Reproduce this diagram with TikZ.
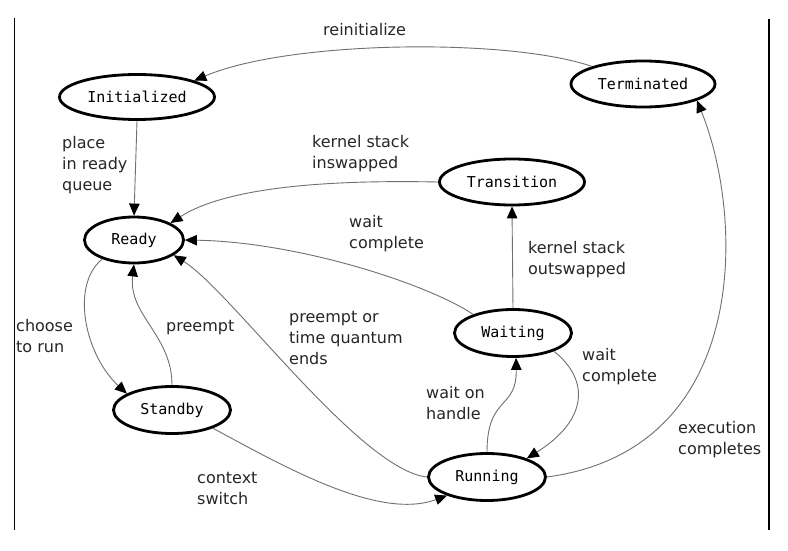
\documentclass[tikz,border=0pt]{standalone}
\usepackage{fontspec}
\setmainfont{DejaVu Sans}
\newfontfamily\statefont{DejaVu Sans Mono}
\usetikzlibrary{shapes.geometric,arrows.meta}
\definecolor{edgegray}{RGB}{112,112,112}
\begin{document}
\begin{tikzpicture}[x=1pt,y=-1pt,
  state/.style={ellipse,draw=black,line width=2.8pt,inner sep=0pt,font=\statefont\fontsize{15}{18}\selectfont},
  conn/.style={draw=edgegray,line width=0.9pt,-{Triangle[length=12pt,width=10.5pt,color=black]}},
  lbl/.style={anchor=west,align=left,inner sep=0pt,font=\fontsize{16}{21}\selectfont,text=black!85}]
\useasboundingbox (0,0) rectangle (788,551);
\fill[white] (0,0) rectangle (788,551);
% frame lines
\draw[line width=1.5pt] (14.5,18) -- (14.5,530);
\draw[line width=1.5pt] (769,19) -- (769,530);
% states
\node[state,minimum width=155pt,minimum height=45pt] (init) at (137,97) {Initialized};
\node[state,minimum width=99pt,minimum height=46pt] (ready) at (134,240) {Ready};
\node[state,minimum width=144pt,minimum height=46pt] (term) at (643,84) {Terminated};
\node[state,minimum width=145pt,minimum height=46pt] (trans) at (512,182) {Transition};
\node[state,minimum width=117pt,minimum height=47pt] (wait) at (513,333) {Waiting};
\node[state,minimum width=117pt,minimum height=47pt] (run) at (487,477) {Running};
\node[state,minimum width=117pt,minimum height=47pt] (stby) at (172,410) {Standby};
% transitions
\draw[conn] (term.161) .. controls (510,38) and (290,40) .. (init.16);
\draw[conn] (init.south) -- (ready.north);
\draw[conn] (trans.west) .. controls (340,180) and (230,185) .. (ready.25);
\draw[conn] (wait.155) .. controls (430,285) and (300,242) .. (ready.east);
\draw[conn] (run.west) .. controls (360,470) and (230,290) .. (ready.-21);
\draw[conn] (ready.211) .. controls (70,285) and (85,355) .. (stby.160);
\draw[conn] (stby.north) .. controls (172,335) and (128,315) .. (ready.south);
\draw[conn] (stby.-24) .. controls (290,470) and (380,520) .. (run.205);
\draw[conn] (run.north) .. controls (487,395) and (517,410) .. (wait.-83);
\draw[conn] (wait.-24) .. controls (590,380) and (588,420) .. (run.25);
\draw[conn] (wait.north) -- (trans.south);
\draw[conn] (run.east) .. controls (750,450) and (745,220) .. (term.-17);
% labels
\node[lbl] (l1) at (323,30) {reinitialize};
\node[lbl] (l2) at (62,165) {place\\in ready\\queue};
\node[lbl] (l3) at (312,154) {kernel stack\\inswapped};
\node[lbl] (l4) at (349,234) {wait\\complete};
\node[lbl] (l5) at (528,260) {kernel stack\\outswapped};
\node[lbl] (l6) at (16,336) {choose\\to run};
\node[lbl] (l7) at (166,328) {preempt};
\node[lbl] (l8) at (289,338) {preempt or\\time quantum\\ends};
\node[lbl] (l9) at (197,488.5) {context\\switch};
\node[lbl] (l10) at (426,403) {wait on\\handle};
\node[lbl] (l11) at (582,367) {wait\\complete};
\node[lbl] (l12) at (678,440) {execution\\completes};
\end{tikzpicture}
\end{document}
